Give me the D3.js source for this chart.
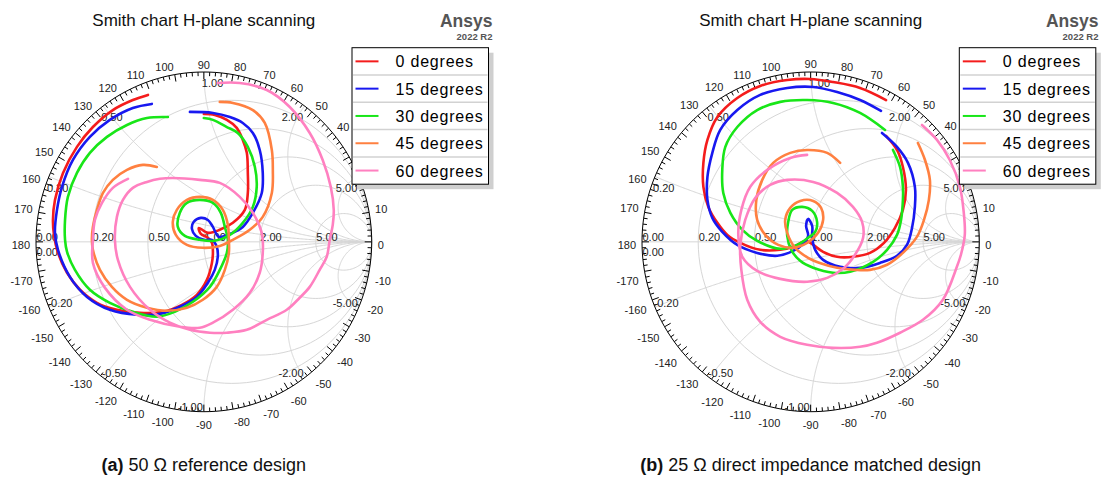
<!DOCTYPE html>
<html>
<head>
<meta charset="utf-8">
<script src="https://cdn.jsdelivr.net/npm/d3@7"></script>
<style>
  body { margin: 0; background: #fff; }
  svg { display: block; font-family: Arial, "Liberation Sans", sans-serif; }
</style>
</head>
<body>
<svg id="chart" width="1107" height="479"></svg>
<script>
// legend entries
const seriesNames = ["0 degrees", "15 degrees", "30 degrees", "45 degrees", "60 degrees"];
const seriesColors = ["#f41c1c", "#1818f0", "#18e618", "#ff8040", "#ff80c0"];

// grid values
const resistanceTicks = [0, 0.2, 0.5, 1, 2, 5];
const reactanceTicks = [0.2, 0.5, 1, 2, 5];
const angleTicks = d3.range(-170, 181, 10);

const titleText = "Smith chart H-plane scanning";
const captionTags = ["(a)", "(b)"];
const captionTexts = [" 50 \u03A9 reference design", " 25 \u03A9 direct impedance matched design"];

// reflection coefficient traces, [re, im]
// (a) 50 ohm reference design
const a0 = [[0,0.753],[0.065,0.747],[0.137,0.718],[0.196,0.671],[0.232,0.600],[0.256,0.524],[0.262,0.406],[0.262,0.288],[0.244,0.188],[0.173,0.112],[0.095,0.071],[0.024,0.053],[-0.030,0.082],[-0.018,0.047],[0.024,0.024],[0.048,-0.006],[0.054,-0.059],[0.048,-0.124],[0.018,-0.224],[-0.042,-0.312],[-0.131,-0.371],[-0.244,-0.412],[-0.381,-0.418],[-0.518,-0.400],[-0.637,-0.359],[-0.738,-0.282],[-0.815,-0.182],[-0.869,-0.065],[-0.893,0.041],[-0.899,0.129],[-0.887,0.247],[-0.839,0.406],[-0.756,0.559],[-0.661,0.676],[-0.542,0.776],[-0.423,0.835],[-0.333,0.865]];
const a15 = [[-0.310,0.812],[-0.423,0.788],[-0.560,0.718],[-0.679,0.618],[-0.780,0.482],[-0.845,0.324],[-0.875,0.188],[-0.887,0.053],[-0.869,-0.047],[-0.798,-0.206],[-0.696,-0.324],[-0.560,-0.400],[-0.399,-0.429],[-0.262,-0.424],[-0.143,-0.382],[-0.042,-0.324],[0.024,-0.241],[0.065,-0.165],[0.083,-0.088],[0.077,-0.029],[0.048,0.012],[0,0.012],[-0.048,0.035],[-0.071,0.076],[-0.060,0.118],[-0.018,0.141],[0.024,0.129],[0.054,0.088],[0.089,0.029],[0.155,0.047],[0.232,0.088],[0.292,0.171],[0.345,0.288],[0.351,0.406],[0.333,0.541],[0.292,0.641],[0.232,0.700],[0.155,0.735],[0.054,0.759],[-0.083,0.765]];
const a30 = [[-0.214,0.735],[-0.339,0.729],[-0.458,0.688],[-0.577,0.618],[-0.679,0.524],[-0.756,0.406],[-0.810,0.265],[-0.827,0.129],[-0.827,0.012],[-0.815,-0.059],[-0.768,-0.165],[-0.679,-0.282],[-0.560,-0.359],[-0.423,-0.412],[-0.280,-0.441],[-0.173,-0.412],[-0.065,-0.353],[0.036,-0.265],[0.095,-0.165],[0.137,-0.065],[0.143,0.012],[0.125,0.088],[0.101,0.171],[0.054,0.229],[-0.024,0.247],[-0.101,0.229],[-0.143,0.171],[-0.155,0.088],[-0.113,0.035],[-0.024,0.012],[0.065,0.006],[0.155,0.041],[0.232,0.112],[0.292,0.206],[0.315,0.324],[0.304,0.441],[0.262,0.559],[0.202,0.641],[0.137,0.676],[0.054,0.718],[0,0.729]];
const a45 = [[-0.280,0.441],[-0.363,0.453],[-0.458,0.424],[-0.542,0.365],[-0.601,0.288],[-0.637,0.188],[-0.661,0.088],[-0.667,0.012],[-0.661,-0.047],[-0.619,-0.165],[-0.548,-0.265],[-0.458,-0.341],[-0.339,-0.388],[-0.220,-0.406],[-0.101,-0.388],[-0.006,-0.341],[0.077,-0.265],[0.125,-0.165],[0.149,-0.065],[0.149,0.012],[0.143,0.100],[0.113,0.188],[0.054,0.247],[-0.024,0.265],[-0.101,0.247],[-0.161,0.188],[-0.185,0.118],[-0.167,0.041],[-0.101,-0.018],[-0.006,-0.035],[0.095,-0.024],[0.173,0.012],[0.274,0.071],[0.351,0.147],[0.405,0.288],[0.411,0.424],[0.405,0.541],[0.363,0.700],[0.292,0.776],[0.173,0.818],[0.095,0.824]];
const a60 = [[-0.452,0.371],[-0.542,0.318],[-0.607,0.229],[-0.649,0.129],[-0.661,0.012],[-0.661,-0.124],[-0.589,-0.271],[-0.458,-0.400],[-0.321,-0.459],[-0.143,-0.500],[-0.024,-0.506],[0.054,-0.476],[0.173,-0.400],[0.274,-0.300],[0.333,-0.182],[0.351,-0.065],[0.345,0.053],[0.292,0.171],[0.214,0.265],[0.095,0.347],[-0.024,0.365],[-0.185,0.376],[-0.262,0.371],[-0.339,0.353],[-0.423,0.318],[-0.482,0.247],[-0.518,0.147],[-0.530,0.012],[-0.512,-0.106],[-0.440,-0.265],[-0.321,-0.400],[-0.202,-0.476],[-0.083,-0.518],[0.036,-0.535],[0.137,-0.535],[0.256,-0.518],[0.375,-0.459],[0.494,-0.400],[0.571,-0.329],[0.631,-0.265],[0.690,-0.165],[0.732,-0.088],[0.750,0.012],[0.768,0.100],[0.774,0.188],[0.756,0.324],[0.708,0.482],[0.631,0.641],[0.512,0.794],[0.375,0.894],[0.214,0.935],[0.083,0.935]];

// (b) 25 ohm direct impedance matched design
const b0 = [[0.447,0.835],[0.293,0.906],[0.133,0.941],[-0.003,0.959],[-0.139,0.953],[-0.299,0.918],[-0.435,0.847],[-0.553,0.735],[-0.612,0.600],[-0.636,0.465],[-0.636,0.324],[-0.607,0.206],[-0.553,0.112],[-0.494,0.041],[-0.417,-0.006],[-0.299,-0.047],[-0.180,-0.047],[-0.092,-0.024],[-0.027,0.006],[0.015,-0.018],[0.074,-0.059],[0.157,-0.088],[0.251,-0.088],[0.352,-0.065],[0.435,-0.006],[0.500,0.082],[0.547,0.188],[0.565,0.306],[0.547,0.441],[0.512,0.541],[0.447,0.624]];
const b15 = [[0.417,0.771],[0.293,0.835],[0.157,0.882],[0.015,0.912],[-0.139,0.906],[-0.299,0.865],[-0.435,0.776],[-0.536,0.659],[-0.583,0.524],[-0.612,0.382],[-0.612,0.247],[-0.583,0.141],[-0.524,0.059],[-0.435,-0.018],[-0.317,-0.065],[-0.198,-0.082],[-0.104,-0.053],[-0.044,-0.012],[-0.015,0.035],[-0.027,0.094],[-0.015,0.135],[0.009,0.094],[0.009,0.024],[0.027,-0.047],[0.074,-0.106],[0.175,-0.147],[0.293,-0.153],[0.411,-0.124],[0.512,-0.082],[0.571,-0.018],[0.601,0.082],[0.618,0.206],[0.618,0.324],[0.577,0.465],[0.512,0.559],[0.423,0.641]];
const b30 = [[0.441,0.659],[0.293,0.759],[0.133,0.818],[-0.021,0.835],[-0.180,0.824],[-0.317,0.776],[-0.435,0.676],[-0.506,0.559],[-0.524,0.424],[-0.518,0.288],[-0.476,0.171],[-0.405,0.071],[-0.317,0.006],[-0.180,-0.041],[-0.080,-0.018],[-0.015,0.024],[0.027,0.059],[0.038,0.118],[0.009,0.182],[-0.050,0.206],[-0.109,0.188],[-0.133,0.118],[-0.139,0.035],[-0.115,-0.047],[-0.062,-0.112],[0.015,-0.153],[0.133,-0.182],[0.234,-0.176],[0.370,-0.118],[0.453,-0.047],[0.512,0.041],[0.536,0.129],[0.547,0.247],[0.547,0.324],[0.530,0.441],[0.488,0.541]];
const b45 = [[0.175,0.465],[0.098,0.524],[-0.021,0.541],[-0.121,0.524],[-0.222,0.465],[-0.287,0.365],[-0.322,0.247],[-0.317,0.129],[-0.269,0.041],[-0.192,-0.018],[-0.104,-0.035],[-0.021,-0.006],[0.044,0.053],[0.074,0.129],[0.062,0.200],[0.015,0.241],[-0.062,0.241],[-0.121,0.200],[-0.151,0.129],[-0.139,0.053],[-0.092,-0.035],[-0.015,-0.094],[0.068,-0.129],[0.157,-0.153],[0.263,-0.165],[0.352,-0.165],[0.453,-0.135],[0.547,-0.065],[0.630,0.029],[0.672,0.129],[0.701,0.247],[0.707,0.365],[0.678,0.482],[0.636,0.582]];
const b60 = [[-0.021,0.512],[-0.121,0.494],[-0.257,0.424],[-0.358,0.324],[-0.411,0.188],[-0.429,0.041],[-0.405,-0.088],[-0.317,-0.171],[-0.180,-0.218],[-0.021,-0.235],[0.098,-0.212],[0.192,-0.159],[0.263,-0.076],[0.311,0.024],[0.305,0.118],[0.251,0.206],[0.157,0.288],[0.015,0.353],[-0.139,0.365],[-0.240,0.335],[-0.328,0.259],[-0.388,0.129],[-0.417,-0.018],[-0.411,-0.165],[-0.376,-0.341],[-0.299,-0.471],[-0.180,-0.559],[-0.021,-0.606],[0.133,-0.624],[0.293,-0.618],[0.393,-0.594],[0.530,-0.535],[0.666,-0.459],[0.784,-0.341],[0.867,-0.147],[0.891,-0.076],[0.914,0.041],[0.908,0.171],[0.885,0.324],[0.825,0.482],[0.749,0.600],[0.660,0.688]];

const svg = d3.select("#chart");

// z = r + jx  ->  reflection coefficient
function toGamma(r, x) {
  const d = (r + 1) * (r + 1) + x * x;
  return [(r * r + x * x - 1) / d, (2 * x) / d];
}

function fmt(v) { return v.toFixed(2); }

function drawPanel(p, traces, idx) {
  const x = d3.scaleLinear().domain([-1, 1]).range([p.x0, p.x1]);
  const y = d3.scaleLinear().domain([-1, 1]).range([p.y1, p.y0]);
  const line = d3.line().x(d => x(d[0])).y(d => y(d[1]));
  const R = (p.x1 - p.x0) / 2;
  const cx = x(0), cy = y(0);
  const g = svg.append("g");
  const grid = g.append("g").attr("fill", "none").attr("stroke", "#d6d6d6").attr("stroke-width", 1);

  // constant resistance circles
  resistanceTicks.filter(r => r > 0).forEach(r => {
    const c = r / (1 + r), rad = 1 / (1 + r);
    const pts = d3.range(0, 361, 3).map(a => [c + rad * Math.cos(a * Math.PI / 180), rad * Math.sin(a * Math.PI / 180)]);
    grid.append("path").attr("d", line(pts));
  });
  // constant reactance arcs
  reactanceTicks.forEach(v => {
    [v, -v].forEach(xv => {
      const pts = d3.range(0, 1, 0.004).map(u => toGamma(u / (1 - u), xv));
      pts.push([1, 0]);
      grid.append("path").attr("d", line(pts));
    });
  });
  grid.append("path").attr("d", line([[-1, 0], [1, 0]]));

  // outer rim with ticks
  const rim = d3.range(0, 361, 2).map(a => [Math.cos(a * Math.PI / 180), Math.sin(a * Math.PI / 180)]);
  g.append("path").attr("d", line(rim)).attr("fill", "none").attr("stroke", "#000").attr("stroke-width", 1);
  const ticks = g.append("g").attr("stroke", "#000").attr("stroke-width", 1);
  d3.range(0, 360, 2).forEach(a => {
    const t = a * Math.PI / 180, len = (a % 10 === 0 ? 7 : 4) / R;
    ticks.append("line")
      .attr("x1", x(Math.cos(t))).attr("y1", y(Math.sin(t)))
      .attr("x2", x((1 - len) * Math.cos(t))).attr("y2", y((1 - len) * Math.sin(t)));
  });

  // angle labels
  const al = g.append("g").attr("font-size", 11).attr("fill", "#222");
  angleTicks.forEach(a => {
    const t = a * Math.PI / 180, c = Math.cos(t), s = Math.sin(t);
    al.append("text")
      .attr("x", cx + (R + 6) * c)
      .attr("y", cy - (R + 6) * s + (s > 0.01 ? -3 : s < -0.01 ? 9 : 3))
      .attr("dy", "0.35em")
      .attr("text-anchor", c > 0.05 ? "start" : c < -0.05 ? "end" : "middle")
      .text(a);
  });

  // grid value labels
  const gl = g.append("g").attr("font-size", 11).attr("fill", "#222");
  resistanceTicks.forEach(r => {
    gl.append("text").attr("x", x((r - 1) / (r + 1)) + 0.5).attr("y", cy - 1).text(fmt(r));
  });
  gl.append("text").attr("x", x(-1) + 0.5).attr("y", cy + 14).text(fmt(0));
  reactanceTicks.forEach(v => {
    const pp = toGamma(0, v), pn = toGamma(0, -v);
    const right = pp[0] > 0.01;
    gl.append("text").attr("x", x(pp[0]) + (right ? -1.5 : -2)).attr("y", y(pp[1]) + 15)
      .attr("text-anchor", right ? "end" : "start").text(fmt(v));
    gl.append("text").attr("x", x(pn[0]) + (pn[0] > -0.01 ? -1 : -1.5)).attr("y", y(pn[1]) - 0.5)
      .attr("text-anchor", pn[0] > -0.01 ? "end" : "start").text(fmt(-v));
  });

  // traces
  const tg = g.append("g").attr("fill", "none").attr("stroke-width", 2.6)
    .attr("stroke-linecap", "round").attr("stroke-linejoin", "round");
  traces.forEach((tr, i) => {
    tg.append("path").attr("d", line.curve(d3.curveCatmullRom)(tr)).attr("stroke", seriesColors[i]);
  });
  line.curve(d3.curveLinear);

  // title and logo
  g.append("text").attr("x", cx).attr("y", 25.5).attr("text-anchor", "middle")
    .attr("font-size", 17).attr("fill", "#111").text(titleText);
  g.append("text").attr("x", p.logoX).attr("y", 26.5).attr("text-anchor", "end")
    .attr("font-size", 17.5).attr("font-weight", "bold").attr("fill", "#555").text("Ansys");
  g.append("text").attr("x", p.logoX).attr("y", 40).attr("text-anchor", "end")
    .attr("font-size", 9.5).attr("font-weight", "bold").attr("fill", "#555").text("2022 R2");

  // legend
  const lw = 136.5, lh = 136.5, rowH = lh / seriesNames.length;
  const lg = g.append("g").attr("transform", `translate(${p.legX},${p.legY})`);
  lg.append("rect").attr("x", 5).attr("y", 5).attr("width", lw).attr("height", lh).attr("fill", "#cfcfcf");
  lg.append("rect").attr("width", lw).attr("height", lh).attr("fill", "#fff").attr("stroke", "#000");
  seriesNames.forEach((name, i) => {
    const yc = rowH * i + rowH / 2;
    if (i > 0) lg.append("line").attr("x1", 1).attr("x2", lw - 1).attr("y1", rowH * i).attr("y2", rowH * i)
      .attr("stroke", "#d2d2d2").attr("stroke-width", 1.5);
    lg.append("line").attr("x1", 3.5).attr("x2", 26.5).attr("y1", yc).attr("y2", yc)
      .attr("stroke", seriesColors[i]).attr("stroke-width", 2);
    lg.append("text").attr("x", 43.5).attr("y", yc + 6).attr("font-size", 16)
      .attr("letter-spacing", 0.8).attr("fill", "#000").text(name);
  });

  // caption
  const cap = g.append("text").attr("x", cx).attr("y", 471).attr("text-anchor", "middle")
    .attr("font-size", 18).attr("fill", "#111");
  cap.append("tspan").attr("font-weight", "bold").text(captionTags[idx]);
  cap.append("tspan").text(captionTexts[idx]);
}

const panels = [
  { x0: 36, x1: 371.7, y0: 72, y1: 411.7, legX: 352, legY: 47.7, logoX: 492.5 },
  { x0: 642, x1: 979.3, y0: 72, y1: 411.7, legX: 959.3, legY: 47.7, logoX: 1098.5 }
];
drawPanel(panels[0], [a0, a15, a30, a45, a60], 0);
drawPanel(panels[1], [b0, b15, b30, b45, b60], 1);
</script>
</body>
</html>
